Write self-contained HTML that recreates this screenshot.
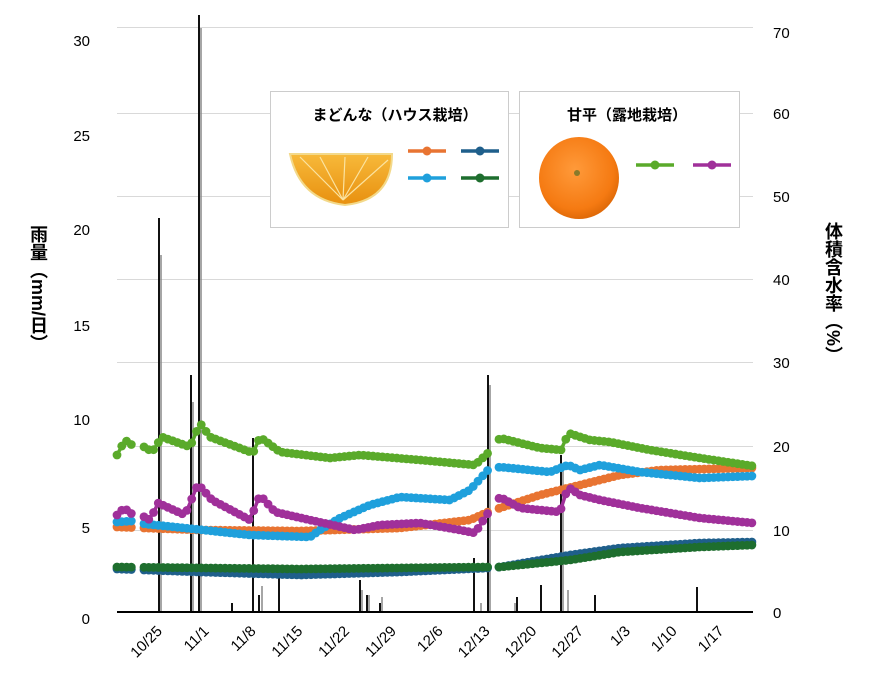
<!DOCTYPE html>
<html><head><meta charset="utf-8"><style>
body{margin:0;background:#fff;}
svg text{font-family:"Liberation Sans","Noto Sans CJK JP",sans-serif;}
</style></head><body>
<svg id="s" width="877" height="676" xmlns="http://www.w3.org/2000/svg">
<defs>
<radialGradient id="mg" cx="45%" cy="40%" r="60%"><stop offset="0" stop-color="#ff9a3a"/><stop offset="0.8" stop-color="#f57a12"/><stop offset="1" stop-color="#e06a08"/></radialGradient>
<linearGradient id="sg" x1="0" y1="0" x2="0" y2="1"><stop offset="0" stop-color="#f7b93a"/><stop offset="1" stop-color="#e8900f"/></linearGradient>
</defs>
<g id="grid" stroke="#d9d9d9" stroke-width="1"></g>
<g id="bars"></g>
<g id="series"></g>
<line x1="117" y1="612" x2="753" y2="612" stroke="#000" stroke-width="2"/>
<g font-size="15" fill="#000" text-anchor="end" id="lt">
<text x="90" y="46">30</text><text x="90" y="141">25</text><text x="90" y="235">20</text><text x="90" y="331">15</text><text x="90" y="425">10</text><text x="90" y="533">5</text><text x="90" y="624">0</text>
</g>
<g font-size="15" fill="#000" text-anchor="start">
<text x="773" y="38">70</text><text x="773" y="119">60</text><text x="773" y="202">50</text><text x="773" y="285">40</text><text x="773" y="368">30</text><text x="773" y="452">20</text><text x="773" y="536">10</text><text x="773" y="618">0</text>
</g>
<g id="xl" font-size="15" fill="#000" text-anchor="end"></g>
<text x="38" y="225" font-size="18" font-weight="bold" style="writing-mode:vertical-rl">雨量（mm/日）</text>
<text x="833" y="222" font-size="18" font-weight="bold" style="writing-mode:vertical-rl">体積含水率（%）</text>
<rect x="270.5" y="91.5" width="238" height="136" fill="#fff" stroke="#ccc"/>
<rect x="519.5" y="91.5" width="220" height="136" fill="#fff" stroke="#ccc"/>
<text x="395" y="120" font-size="15" font-weight="bold" text-anchor="middle">まどんな（ハウス栽培）</text>
<text x="627" y="120" font-size="15" font-weight="bold" text-anchor="middle">甘平（露地栽培）</text>
<path d="M290 154 L392 154 Q392 200 345 205 Q300 200 290 154 Z" fill="url(#sg)" stroke="#f3d98a" stroke-width="2"/>
<g stroke="#fbe3a0" stroke-width="1.2"><line x1="343" y1="200" x2="300" y2="157"/><line x1="343" y1="200" x2="320" y2="157"/><line x1="343" y1="200" x2="345" y2="157"/><line x1="343" y1="200" x2="368" y2="157"/><line x1="343" y1="200" x2="388" y2="160"/></g>
<ellipse cx="579" cy="178" rx="40" ry="41" fill="url(#mg)"/>
<circle cx="577" cy="173" r="3" fill="#8a7a2a"/>
<g id="leg"></g>
</svg>
<script>
var s=document.getElementById('s'),NS='http://www.w3.org/2000/svg';
function el(p,t,a){var e=document.createElementNS(NS,t);for(var k in a)e.setAttribute(k,a[k]);document.getElementById(p).appendChild(e);return e;}
[27,113,196,279,362,446,530].forEach(function(y){el('grid','line',{x1:117,x2:753,y1:y+.5,y2:y+.5});});
var bars=[[159,218,1],[161,255,0],[191,375,1],[193,402,0],[199,15,1],[201,28,0],[232,603,1],[253,438,1],[259,595,1],[262,586,0],[279,577,1],[360,580,1],[362,590,0],[367,595,1],[369,595,0],[380,603,1],[382,597,0],[474,558,1],[481,603,0],[488,375,1],[490,385,0],[515,603,0],[517,597,1],[541,585,1],[561,455,1],[563,466,0],[568,590,0],[595,595,1],[697,587,1]];
bars.forEach(function(b){el('bars','line',{x1:b[0],x2:b[0],y1:612,y2:b[1],stroke:b[2]?'#111':'#888','stroke-width':b[2]?2:1.5});});
var S=[
['#e87432',[[117,527],[200,530],[300,531],[400,528],[470,520],[488,512],[500,508],[540,495],[580,485],[620,475],[660,470],[753,468]]],
['#1f5f8b',[[117,569],[200,572],[300,575],[400,572],[488,568],[500,567],[570,555],[620,548],[700,543],[753,542]]],
['#1e6e2e',[[117,567],[300,569],[488,567],[500,567],[570,560],[620,552],[700,547],[753,545]]],
['#1fa0dc',[[117,522],[132,521],[145,524],[175,527],[250,535],[310,537],[320,530],[340,518],[370,505],[400,497],[450,500],[470,490],[488,470],[500,467],[550,472],[568,465],[580,470],[600,465],[640,472],[700,478],[753,476]]],
['#a0309a',[[117,515],[124,508],[132,514],[145,517],[150,520],[158,503],[185,515],[198,484],[212,500],[250,520],[260,495],[275,512],[310,520],[355,530],[380,525],[420,523],[460,530],[475,533],[488,513],[500,497],[520,508],[560,512],[568,487],[580,495],[600,500],[640,508],[700,518],[753,523]]],
['#5aaa2a',[[117,455],[125,440],[132,445],[145,447],[152,452],[162,437],[190,447],[200,423],[210,437],[253,453],[260,437],[280,452],[330,458],[360,455],[420,460],[475,465],[488,453],[500,438],[540,448],[562,450],[568,433],[590,440],[610,442],[650,450],[700,458],[753,466]]]
];
function val(k,x){for(var i=0;i<k.length-1;i++){if(x>=k[i][0]&&x<=k[i+1][0]){var t=(x-k[i][0])/(k[i+1][0]-k[i][0]);return k[i][1]+t*(k[i+1][1]-k[i][1]);}}return k[k.length-1][1];}
var step=6.68;
S.forEach(function(sr){var c=sr[0],k=sr[1],segs=[[117,134],[144,490],[499,753]];
segs.forEach(function(sg){var pts=[];for(var x=sg[0];x<=sg[1]+0.1;x+=step/1.4){pts.push(x.toFixed(1)+','+val(k,x).toFixed(1));el('series','circle',{cx:x,cy:val(k,x),r:4.4,fill:c});}
el('series','polyline',{points:pts.join(' '),fill:'none',stroke:c,'stroke-width':3.5});});});
var labs=['10/25','11/1','11/8','11/15','11/22','11/29','12/6','12/13','12/20','12/27','1/3','1/10','1/17'];
labs.forEach(function(l,i){var x=163+i*46.8,y=632;var t=el('xl','text',{x:x,y:y,transform:'rotate(-45 '+x+' '+y+')'});t.textContent=l;});
var L=[['#e87432',408,151],['#1f5f8b',461,151],['#1fa0dc',408,178],['#1e6e2e',461,178],['#5aaa2a',636,165],['#a0309a',693,165]];
L.forEach(function(m){el('leg','line',{x1:m[1],x2:m[1]+38,y1:m[2],y2:m[2],stroke:m[0],'stroke-width':3.5});el('leg','circle',{cx:m[1]+19,cy:m[2],r:4.5,fill:m[0]});});
</script>
</body></html>
